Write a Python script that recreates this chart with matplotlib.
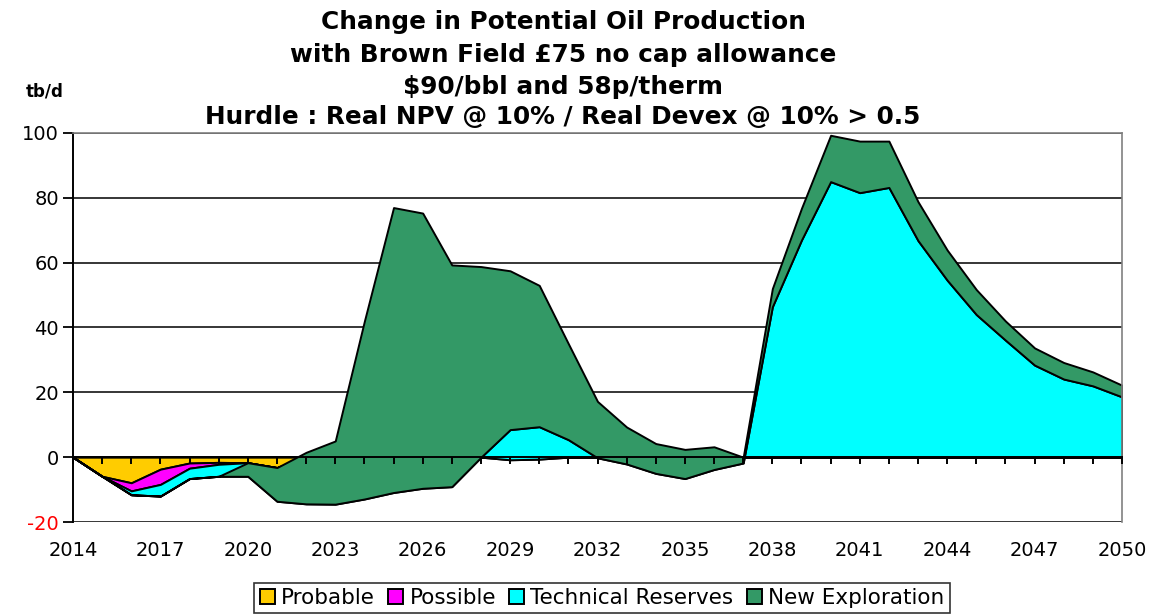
import numpy as np
import matplotlib
matplotlib.use("Agg")
import matplotlib.pyplot as plt
from matplotlib.ticker import MultipleLocator

plt.rcParams["axes.unicode_minus"] = False

years = list(range(2014, 2051))
label_years = list(range(2014, 2051, 3))

probable = [0, -5.9, -7.9, -3.7, -1.8, -1.6, -1.7, -3.2] + [0] * 29
possible = [0, 0, -2.5, -4.7, -1.6, -0.6, 0, 0,
            0, 0, 0, 0, 0, 0, 0, -0.8, -0.6, 0] + [0] * 19
technical = [0, 0, -1.2, -3.6, -3.2, -3.7, -4.2, -10.4,
             -14.4, -14.5, -12.9, -10.9, -9.6, -9.1, 0, 9.3, 10.0, 5.4,
             -0.2, -2.1, -5.0, -6.6, -3.8, -1.8,
             46.4, 67.0, 85.0, 81.6, 83.2, 66.8, 54.6, 44.0, 36.1, 28.4, 24.1, 22.0, 18.6]
new_exploration = [0, 0, 0, 0, 0, 0, 4.2, 10.4,
                   15.9, 19.5, 54.9, 87.9, 84.9, 68.4, 58.8, 49.0, 43.6, 29.6,
                   17.4, 11.4, 9.2, 9.0, 7.0, 1.8,
                   5.6, 9.8, 14.3, 15.9, 14.3, 12.0, 9.3, 7.7, 5.9, 5.3, 5.1, 4.3, 3.6]

series_names = ["Probable", "Possible", "Technical Reserves", "New Exploration"]
series_colors = ["#FFCC00", "#FF00FF", "#00FFFF", "#339966"]
series_values = [probable, possible, technical, new_exploration]

title_lines = ["Change in Potential Oil Production",
               "with Brown Field \u00a375 no cap allowance",
               "$90/bbl and 58p/therm",
               "Hurdle : Real NPV @ 10% / Real Devex @ 10% > 0.5"]

W, H = 1155, 615
fig = plt.figure(figsize=(W / 100, H / 100), dpi=100)
ax = fig.add_axes([73 / W, 1 - 522 / H, (1122 - 73) / W, (522 - 133) / H])

x = np.array(years, dtype=float)
base = np.zeros(len(years))
for i, (name, vals, col) in enumerate(zip(series_names, series_values, series_colors)):
    top = base + np.asarray(vals, dtype=float)
    ax.fill_between(x, base, top, facecolor=col, edgecolor="black",
                    linewidth=1.4, zorder=2 + i, label=name)
    base = top

ax.set_xlim(2014, 2050)
ax.set_ylim(-20, 100)

# y axis
ax.set_yticks(range(-20, 101, 20))
ax.yaxis.grid(True, color="black", linewidth=1.1)
ax.yaxis.set_zorder(0.5)
ax.tick_params(axis="y", direction="out", length=7, width=1.3, labelsize=14, pad=3)
ax.get_yticklabels()[0].set_color("red")

# x axis at zero
ax.spines["bottom"].set_position(("data", 0))
ax.set_xticks(label_years)
ax.xaxis.set_minor_locator(MultipleLocator(1))
ax.tick_params(axis="x", which="both", direction="out", length=5, width=1.4)
ax.tick_params(axis="x", which="major", labelsize=14, pad=55)
ax.xaxis.set_zorder(10)

for s in ["bottom", "left"]:
    ax.spines[s].set_color("black")
    ax.spines[s].set_linewidth(1.4)
    ax.spines[s].set_zorder(10)
for s in ["top", "right"]:
    ax.spines[s].set_color("#808080")
    ax.spines[s].set_linewidth(1.2)
    ax.spines[s].set_zorder(10)

# titles
title_y = [22, 55, 87, 117]
for t, yy in zip(title_lines, title_y):
    fig.text(563 / W, 1 - yy / H, t, ha="center", va="center",
             fontsize=17.8, fontweight="bold")
fig.text(45 / W, 1 - 92 / H, "tb/d", ha="center", va="center",
         fontsize=12, fontweight="bold")

leg = fig.legend(loc="center", bbox_to_anchor=(602 / W, 1 - 598 / H), ncol=4,
                 fontsize=15.5, frameon=True, fancybox=False, handlelength=0.7,
                 handleheight=0.7, handletextpad=0.3, columnspacing=0.6,
                 borderpad=0.25, borderaxespad=0)
leg.get_frame().set_edgecolor("black")
leg.get_frame().set_linewidth(1.2)

fig.savefig("out.png", dpi=100)
